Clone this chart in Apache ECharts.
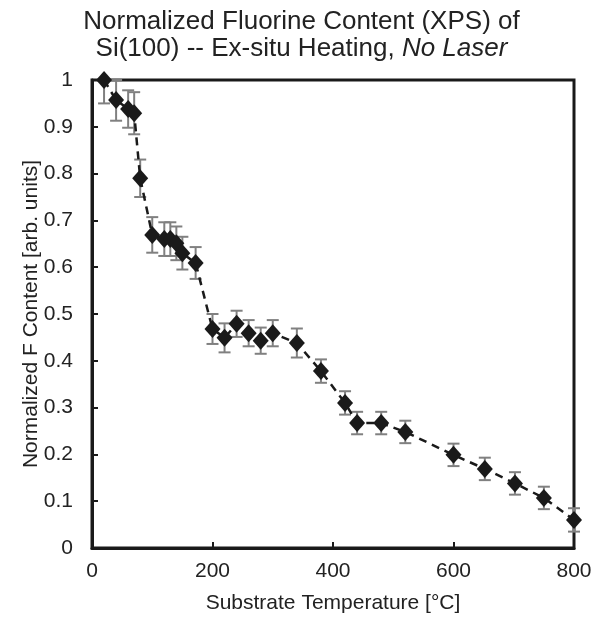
<!DOCTYPE html>
<html>
<head>
<meta charset="utf-8">
<script src="https://cdn.jsdelivr.net/npm/echarts@6/dist/echarts.min.js"></script>
<style>
  html, body { margin: 0; padding: 0; background: #fff; }
  #chart { width: 603px; height: 619px; }
</style>
</head>
<body>
<div id="chart"></div>
<script>
// Substrate temperature (°C)
const temperature = [20, 40, 60, 70, 80, 100, 120, 130, 140, 150, 172, 200, 220, 240, 260, 280, 300, 340, 380, 420, 440, 480, 520, 600, 652, 702, 750, 800];
// Normalized F content
const fContent = [1.0, 0.957, 0.938, 0.929, 0.79, 0.669, 0.66, 0.66, 0.651, 0.63, 0.609, 0.468, 0.449, 0.479, 0.459, 0.443, 0.459, 0.438, 0.378, 0.31, 0.267, 0.267, 0.248, 0.199, 0.169, 0.138, 0.107, 0.06];
// Symmetric uncertainty (±)
const fError = [0.05, 0.044, 0.04, 0.045, 0.04, 0.038, 0.036, 0.036, 0.036, 0.035, 0.034, 0.032, 0.031, 0.028, 0.028, 0.028, 0.028, 0.031, 0.025, 0.025, 0.024, 0.024, 0.024, 0.024, 0.024, 0.024, 0.024, 0.025];

const xTicks = [0, 200, 400, 600, 800];
const yMax = 1;

const font = '"Liberation Sans", Arial, sans-serif';
const points = temperature.map((t, i) => [t, fContent[i]]);
const bars = temperature.map((t, i) => [t, Math.max(0, fContent[i] - fError[i]), Math.min(yMax, fContent[i] + fError[i])]);

const chart = echarts.init(document.getElementById('chart'), null, { renderer: 'canvas' });

chart.setOption({
  animation: false,
  backgroundColor: '#ffffff',
  title: {
    text: 'Normalized Fluorine Content (XPS) of\nSi(100) -- Ex-situ Heating, {i|No Laser}',
    left: 'center',
    top: 3,
    textStyle: {
      fontFamily: font,
      fontSize: 26,
      fontWeight: 'normal',
      color: '#222',
      lineHeight: 27,
      rich: {
        i: { fontFamily: font, fontSize: 26, fontStyle: 'italic', color: '#222', lineHeight: 27 }
      }
    }
  },
  grid: {
    left: 92, right: 29, top: 80, bottom: 71,
    show: true,
    borderColor: '#1a1a1a',
    borderWidth: 3,
    backgroundColor: 'transparent'
  },
  xAxis: {
    type: 'value',
    min: xTicks[0], max: xTicks[xTicks.length - 1], interval: 200,
    name: 'Substrate Temperature [°C]',
    nameLocation: 'middle',
    nameGap: 45,
    nameTextStyle: { fontFamily: font, fontSize: 21, color: '#222' },
    axisLine: { show: true, lineStyle: { color: '#1a1a1a', width: 3 } },
    axisTick: { show: true, inside: true, length: 6, lineStyle: { color: '#1a1a1a', width: 2 } },
    axisLabel: { fontFamily: font, fontSize: 21, color: '#222', margin: 13 },
    splitLine: { show: false }
  },
  yAxis: {
    type: 'value',
    min: 0, max: yMax, interval: 0.1,
    name: 'Normalized F Content [arb. units]',
    nameLocation: 'middle',
    nameGap: 50,
    nameMoveOverlap: false,
    nameTextStyle: { fontFamily: font, fontSize: 21, color: '#222' },
    axisLine: { show: true, lineStyle: { color: '#1a1a1a', width: 3 } },
    axisTick: { show: true, inside: true, length: 6, lineStyle: { color: '#1a1a1a', width: 2 } },
    axisLabel: {
      fontFamily: font, fontSize: 21, color: '#222', margin: 19,
      formatter: v => String(Math.round(v * 10) / 10)
    },
    splitLine: { show: false }
  },
  series: [
    {
      type: 'custom',
      name: 'error',
      z: 1,
      clip: false,
      data: bars,
      renderItem: function (params, api) {
        const x = api.value(0);
        const lo = api.coord([x, api.value(1)]);
        const hi = api.coord([x, api.value(2)]);
        const cap = 6;
        const style = { stroke: '#808080', lineWidth: 2, fill: null };
        return {
          type: 'group',
          children: [
            { type: 'line', shape: { x1: lo[0], y1: lo[1], x2: hi[0], y2: hi[1] }, style: style },
            { type: 'line', shape: { x1: lo[0] - cap, y1: lo[1], x2: lo[0] + cap, y2: lo[1] }, style: style },
            { type: 'line', shape: { x1: hi[0] - cap, y1: hi[1], x2: hi[0] + cap, y2: hi[1] }, style: style }
          ]
        };
      }
    },
    {
      type: 'line',
      name: 'F content',
      z: 3,
      data: points,
      clip: false,
      symbol: 'diamond',
      symbolSize: [16, 18],
      showAllSymbol: true,
      itemStyle: { color: '#1a1a1a' },
      lineStyle: { color: '#1a1a1a', width: 2.5, type: [8, 6] }
    }
  ]
});
</script>
</body>
</html>
